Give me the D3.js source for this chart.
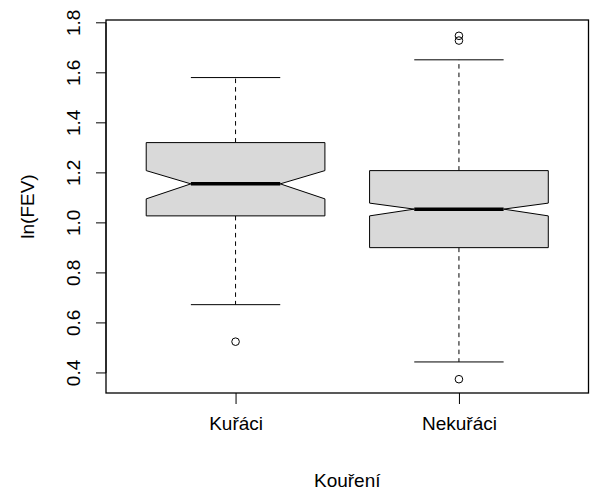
<!DOCTYPE html>
<html>
<head>
<meta charset="utf-8">
<script src="https://cdn.jsdelivr.net/npm/d3@7"></script>
<style>
  body { margin: 0; background: #fff; }
  svg text { font-family: "Liberation Sans", Arial, sans-serif; fill: #000; }
</style>
</head>
<body>
<svg id="chart"></svg>
<script>
const categories = ['Kuřáci', 'Nekuřáci'];
const q1 = [1.028, 0.901];
const medians = [1.156, 1.055];
const q3 = [1.321, 1.209];
const notchLow = [1.096, 1.028];
const notchHigh = [1.209, 1.079];
const whiskerLow = [0.673, 0.444];
const whiskerHigh = [1.581, 1.652];
const outliers = [[0.525], [0.375, 1.729, 1.748]];
const yTicks = [0.4, 0.6, 0.8, 1.0, 1.2, 1.4, 1.6, 1.8];

const w = 593;
const h = 495;
const margin = { top: 20, right: 4.5, bottom: 102, left: 106 };

const svg = d3.select('#chart').attr('width', w).attr('height', h);

// R style: x from 0.5 to n + 0.5, expanded 4%
const x = d3
  .scaleLinear()
  .domain([0.42, 2.58])
  .range([margin.left, w - margin.right]);

const y = d3
  .scaleLinear()
  .domain([0.3198, 1.8112])
  .range([h - margin.bottom, margin.top]);

const boxHalf = 0.4;
const notchHalf = 0.2;
const stapleHalf = 0.2;

const boxes = categories.map((c, i) => ({
  c, pos: i + 1,
  q1: q1[i], med: medians[i], q3: q3[i],
  nlo: notchLow[i], nhi: notchHigh[i],
  wlo: whiskerLow[i], whi: whiskerHigh[i],
  out: outliers[i]
}));

const g = svg.selectAll('g.box').data(boxes).enter().append('g').attr('class', 'box');

// whiskers (dashed)
g.append('line')
  .attr('x1', (d) => x(d.pos)).attr('x2', (d) => x(d.pos))
  .attr('y1', (d) => y(d.q3)).attr('y2', (d) => y(d.whi))
  .attr('stroke', '#000').attr('stroke-dasharray', '4.5,4');
g.append('line')
  .attr('x1', (d) => x(d.pos)).attr('x2', (d) => x(d.pos))
  .attr('y1', (d) => y(d.q1)).attr('y2', (d) => y(d.wlo))
  .attr('stroke', '#000').attr('stroke-dasharray', '4.5,4');

// staples
['whi', 'wlo'].forEach((k) => {
  g.append('line')
    .attr('x1', (d) => x(d.pos - stapleHalf)).attr('x2', (d) => x(d.pos + stapleHalf))
    .attr('y1', (d) => y(d[k])).attr('y2', (d) => y(d[k]))
    .attr('stroke', '#000');
});

// notched box
g.append('path')
  .attr('d', (d) => {
    const pts = [
      [d.pos - boxHalf, d.q1],
      [d.pos - boxHalf, d.nlo],
      [d.pos - notchHalf, d.med],
      [d.pos - boxHalf, d.nhi],
      [d.pos - boxHalf, d.q3],
      [d.pos + boxHalf, d.q3],
      [d.pos + boxHalf, d.nhi],
      [d.pos + notchHalf, d.med],
      [d.pos + boxHalf, d.nlo],
      [d.pos + boxHalf, d.q1]
    ];
    return d3.line().x((p) => x(p[0])).y((p) => y(p[1]))(pts) + 'Z';
  })
  .attr('fill', '#d9d9d9')
  .attr('stroke', '#000')
  .attr('stroke-width', 1);

// median
g.append('line')
  .attr('x1', (d) => x(d.pos - notchHalf)).attr('x2', (d) => x(d.pos + notchHalf))
  .attr('y1', (d) => y(d.med)).attr('y2', (d) => y(d.med))
  .attr('stroke', '#000').attr('stroke-width', 3.5);

// outliers
g.selectAll('circle')
  .data((d) => d.out.map((v) => ({ pos: d.pos, v })))
  .enter().append('circle')
  .attr('cx', (d) => x(d.pos)).attr('cy', (d) => y(d.v))
  .attr('r', 3.8)
  .attr('fill', 'none').attr('stroke', '#000').attr('stroke-width', 1);

// plot frame
svg.append('rect')
  .attr('x', margin.left).attr('y', margin.top)
  .attr('width', w - margin.left - margin.right)
  .attr('height', h - margin.top - margin.bottom)
  .attr('fill', 'none').attr('stroke', '#000').attr('stroke-width', 1.3);

// axes
const xAxis = svg.append('g')
  .attr('transform', `translate(0, ${h - margin.bottom})`)
  .call(d3.axisBottom(x).tickValues([1, 2]).tickSize(11).tickPadding(20)
    .tickFormat((d) => categories[d - 1]));
xAxis.select('.domain').remove();
xAxis.selectAll('text').style('font-size', '19px').attr('dy', '0.3em');

const yAxis = svg.append('g')
  .attr('transform', `translate(${margin.left}, 0)`)
  .call(d3.axisLeft(y).tickValues(yTicks).tickSize(10).tickFormat(d3.format('.1f')));
yAxis.select('.domain').attr('d', `M0,${y(0.4)}V${y(1.8)}`);
yAxis.selectAll('text')
  .style('font-size', '19px')
  .attr('text-anchor', 'middle')
  .attr('x', 0).attr('dy', 0)
  .attr('transform', (d) => `translate(-26, ${y(d)}) rotate(-90)`)
  .attr('y', 0);
yAxis.selectAll('.tick').attr('transform', null);
yAxis.selectAll('.tick line').attr('y1', (d) => y(d)).attr('y2', (d) => y(d));

// titles
svg.append('text')
  .attr('x', (margin.left + w - margin.right) / 2)
  .attr('y', 487)
  .attr('text-anchor', 'middle')
  .style('font-size', '19px')
  .text('Kouření');

svg.append('text')
  .attr('transform', `translate(33.5, ${(margin.top + h - margin.bottom) / 2}) rotate(-90)`)
  .attr('text-anchor', 'middle')
  .style('font-size', '19px')
  .text('ln(FEV)');
</script>
</body>
</html>
